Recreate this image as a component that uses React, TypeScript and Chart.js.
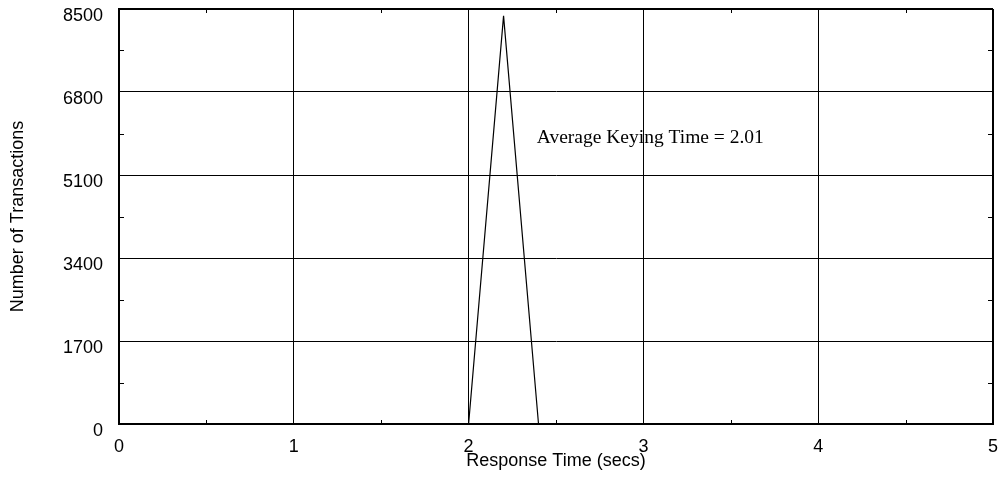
import React, { useEffect, useRef } from "react";
import { Chart, registerables } from "chart.js";

Chart.register(...registerables);

// ---- data ----
const responseTimes: number[] = [0, 2.0, 2.2, 2.4, 5];
const transactions: number[] = [0, 0, 8360, 0, 0];
const xTickValues: number[] = [0, 1, 2, 3, 4, 5];
const yTickValues: number[] = [0, 1700, 3400, 5100, 6800, 8500];
const xMinorTickValues: number[] = [0.5, 1.5, 2.5, 3.5, 4.5];
const yMinorTickValues: number[] = [850, 2550, 4250, 5950, 7650];
const xTitle = "Response Time (secs)";
const yTitle = "Number of Transactions";
const annotationText = "Average Keying Time = 2.01";
const annotationX = 2.39;
const annotationY = 5760;

const SANS = '"Liberation Sans", Arial, Helvetica, sans-serif';
const SERIF = '"Liberation Serif", "Times New Roman", serif';

const extrasPlugin = {
  id: "extras",
  afterDraw(chart: any) {
    const ctx = chart.ctx as CanvasRenderingContext2D;
    const { left, right, top, bottom } = chart.chartArea;
    const xs = chart.scales.x;
    const ys = chart.scales.y;
    ctx.save();
    ctx.strokeStyle = "#000";
    ctx.lineWidth = 1;
    ctx.beginPath();
    xMinorTickValues.forEach((v) => {
      const px = Math.round(xs.getPixelForValue(v)) + 0.5;
      ctx.moveTo(px, bottom);
      ctx.lineTo(px, bottom - 4);
      ctx.moveTo(px, top);
      ctx.lineTo(px, top + 4);
    });
    yMinorTickValues.forEach((v) => {
      const py = Math.round(ys.getPixelForValue(v)) + 0.5;
      ctx.moveTo(left, py);
      ctx.lineTo(left + 5, py);
      ctx.moveTo(right, py);
      ctx.lineTo(right - 5, py);
    });
    ctx.stroke();
    ctx.font = `19.5px ${SERIF}`;
    ctx.fillStyle = "#000";
    ctx.textAlign = "left";
    ctx.textBaseline = "alphabetic";
    ctx.fillText(annotationText, xs.getPixelForValue(annotationX), ys.getPixelForValue(annotationY));
    ctx.restore();
  },
};

export default function App() {
  const canvasRef = useRef<HTMLCanvasElement | null>(null);

  useEffect(() => {
    if (!canvasRef.current) return;
    const tickFont = { family: SANS, size: 18 };
    const chart = new Chart(canvasRef.current, {
      type: "line",
      data: {
        datasets: [
          {
            data: responseTimes.map((x, i) => ({ x, y: transactions[i] })),
            borderColor: "#000",
            borderWidth: 1.2,
            pointRadius: 0,
            tension: 0,
            fill: false,
          },
        ],
      },
      options: {
        animation: false,
        responsive: false,
        devicePixelRatio: 1,
        layout: { padding: { top: 9, right: 10, bottom: 0, left: 0 } },
        plugins: {
          legend: { display: false },
          tooltip: { enabled: false },
        },
        scales: {
          x: {
            type: "linear",
            min: 0,
            max: 5,
            afterBuildTicks: (s: any) => {
              s.ticks = xTickValues.map((value) => ({ value }));
            },
            ticks: {
              color: "#000",
              font: tickFont,
              padding: 12,
              maxRotation: 0,
              autoSkip: false,
              callback: (v: any) => String(v),
            },
            grid: {
              color: "#000",
              lineWidth: (c: any) => (c.tick && c.tick.value === 5 ? 2 : 1),
              drawTicks: false,
            },
            border: { display: true, color: "#000", width: 2 },
            title: {
              display: true,
              text: xTitle,
              color: "#000",
              font: tickFont,
              padding: { top: 0, bottom: 6 },
            },
            afterFit: (s: any) => {
              s.height = 54;
              s.paddingLeft = 0;
              s.paddingRight = 0;
            },
          },
          y: {
            type: "linear",
            min: 0,
            max: 8500,
            afterBuildTicks: (s: any) => {
              s.ticks = yTickValues.map((value) => ({ value }));
            },
            ticks: {
              color: "#000",
              font: tickFont,
              padding: 16,
              labelOffset: 7.5,
              autoSkip: false,
              callback: (v: any) => String(v),
            },
            grid: {
              color: "#000",
              lineWidth: (c: any) => (c.tick && c.tick.value === 8500 ? 2 : 1),
              drawTicks: false,
            },
            border: { display: true, color: "#000", width: 2 },
            title: {
              display: true,
              text: yTitle,
              color: "#000",
              font: tickFont,
              padding: { top: 7, bottom: 0 },
            },
            afterFit: (s: any) => {
              s.width = 119;
              s.paddingTop = 0;
              s.paddingBottom = 0;
            },
          },
        },
      },
      plugins: [extrasPlugin],
    });
    return () => chart.destroy();
  }, []);

  return (
    <div style={{ position: "fixed", left: 0, top: 0, width: 1003, height: 478, background: "#fff" }}>
      <canvas ref={canvasRef} width={1003} height={478} style={{ width: 1003, height: 478, display: "block" }} />
    </div>
  );
}
